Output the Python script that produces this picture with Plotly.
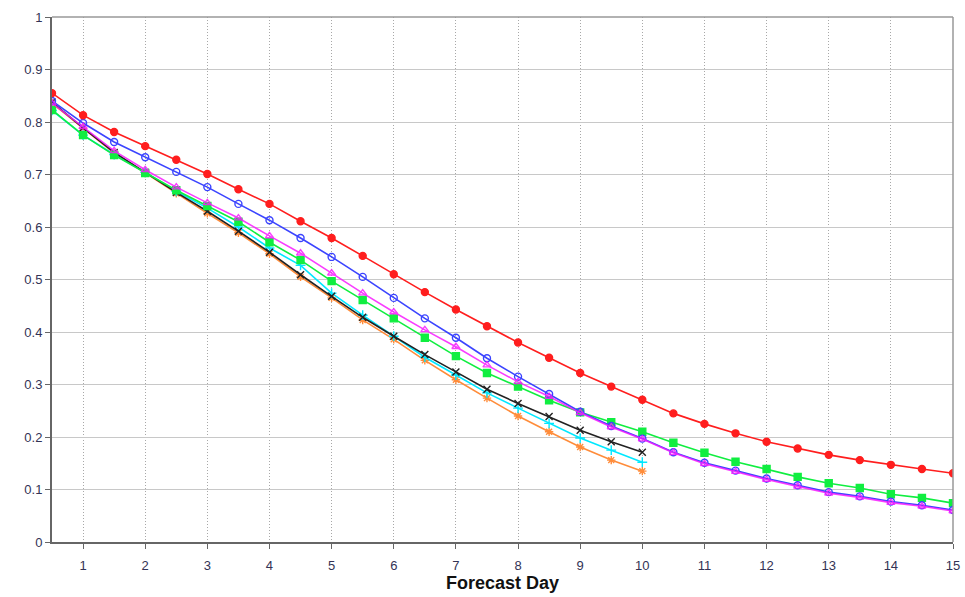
import plotly.graph_objects as go

days_long = [0.5 * i for i in range(1, 31)]
days_short = [0.5 * i for i in range(1, 21)]

red = [0.855, 0.813, 0.781, 0.754, 0.728, 0.701, 0.672, 0.644, 0.611, 0.579,
       0.545, 0.510, 0.476, 0.443, 0.411, 0.380, 0.351, 0.322, 0.296, 0.271,
       0.245, 0.225, 0.207, 0.191, 0.178, 0.166, 0.156, 0.147, 0.139, 0.131]
blue = [0.840, 0.798, 0.762, 0.733, 0.705, 0.676, 0.644, 0.613, 0.579, 0.543,
        0.505, 0.465, 0.426, 0.389, 0.350, 0.315, 0.282, 0.248, 0.221, 0.197,
        0.171, 0.151, 0.136, 0.121, 0.108, 0.095, 0.087, 0.077, 0.070, 0.061]
magenta = [0.836, 0.791, 0.745, 0.709, 0.676, 0.646, 0.617, 0.583, 0.550, 0.512,
           0.474, 0.438, 0.404, 0.372, 0.337, 0.305, 0.277, 0.246, 0.219, 0.196,
           0.170, 0.149, 0.134, 0.119, 0.106, 0.093, 0.085, 0.075, 0.068, 0.059]
green = [0.823, 0.775, 0.737, 0.703, 0.670, 0.640, 0.610, 0.571, 0.537, 0.497,
         0.461, 0.426, 0.389, 0.354, 0.322, 0.296, 0.270, 0.247, 0.228, 0.210,
         0.189, 0.170, 0.153, 0.139, 0.124, 0.112, 0.103, 0.091, 0.084, 0.074]
black = [0.838, 0.789, 0.742, 0.704, 0.666, 0.630, 0.592, 0.552, 0.509, 0.468,
         0.428, 0.392, 0.357, 0.324, 0.291, 0.264, 0.239, 0.213, 0.191, 0.171]
cyan = [0.822, 0.775, 0.738, 0.704, 0.668, 0.636, 0.600, 0.560, 0.527, 0.474,
        0.432, 0.392, 0.352, 0.318, 0.284, 0.255, 0.226, 0.198, 0.175, 0.152]
orange = [0.836, 0.788, 0.741, 0.703, 0.664, 0.626, 0.589, 0.549, 0.505, 0.465,
          0.423, 0.386, 0.346, 0.309, 0.274, 0.240, 0.210, 0.181, 0.156, 0.135]

x_ticks = list(range(1, 16))
y_ticks = [0, 0.1, 0.2, 0.3, 0.4, 0.5, 0.6, 0.7, 0.8, 0.9, 1]
y_labels = ["0", "0.1", "0.2", "0.3", "0.4", "0.5", "0.6", "0.7", "0.8", "0.9", "1"]

series = [
    ("Series 7", days_short, orange, "#ff8c3a", "asterisk-open", 1.0),
    ("Series 6", days_short, cyan, "#00e8ff", "cross-thin-open", 1.0),
    ("Series 5", days_short, black, "#222222", "x-thin-open", 1.0),
    ("Series 4", days_long, green, "#10ee40", "square", 1.0),
    ("Series 2", days_long, blue, "#3b44ff", "circle-open", 1.0),
    ("Series 3", days_long, magenta, "#f81cff", "triangle-up-open", 0.85),
    ("Series 1", days_long, red, "#ff1e1e", "circle", 1.0),
]

fig = go.Figure()
for name, xs, ys, col, sym, op in series:
    fig.add_trace(go.Scatter(
        x=xs, y=ys, name=name, mode="lines+markers", opacity=op,
        line=dict(color=col, width=1.6),
        marker=dict(symbol=sym, size=7, color=col, line=dict(color=col, width=1.4)),
    ))

fig.update_layout(
    width=965, height=597,
    margin=dict(l=52, r=12, t=17, b=55, autoexpand=False),
    paper_bgcolor="white", plot_bgcolor="white",
    showlegend=False,
    font=dict(family="Liberation Sans, Arial, sans-serif", size=13, color="#333355"),
)
fig.update_xaxes(
    range=[0.5, 15], tickvals=x_ticks, ticktext=[str(t) for t in x_ticks],
    automargin=False,
    showgrid=True, gridcolor="#a8a8a8", griddash="1px,2px", gridwidth=1,
    showline=True, linecolor="#666666", linewidth=2, mirror=False,
    ticks="outside", ticklen=5, tickcolor="#666666", ticklabelstandoff=5,
    zeroline=False,
    title=dict(text="<b>Forecast Day</b>", font=dict(size=18, color="#111111"), standoff=2),
)
fig.update_yaxes(
    range=[0, 1], tickvals=y_ticks, ticktext=y_labels,
    automargin=False,
    showgrid=True, gridcolor="#c8c8c8", gridwidth=1,
    showline=True, linecolor="#666666", linewidth=2,
    ticks="outside", ticklen=5, tickcolor="#666666",
    zeroline=False,
)
# top and right frame
fig.add_shape(type="line", xref="paper", yref="paper", x0=0, x1=1, y0=1, y1=1,
              line=dict(color="#999999", width=1.5))
fig.add_shape(type="line", xref="paper", yref="paper", x0=1, x1=1, y0=0, y1=1,
              line=dict(color="#999999", width=1.5))

fig.write_html("out.html")
